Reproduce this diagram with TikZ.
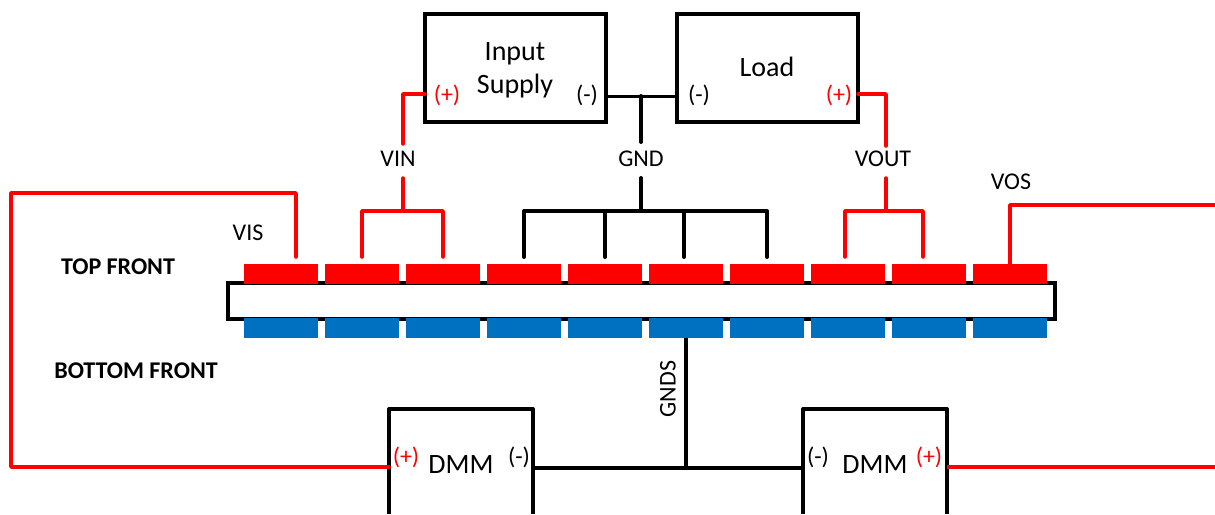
\documentclass[tikz,border=0pt]{standalone}
\usepackage{fontspec}
\setmainfont{Carlito}
\definecolor{padred}{HTML}{FF0000}
\definecolor{padblue}{HTML}{0070C0}
\tikzset{
  boxnode/.style={draw=black,line width=4pt,minimum width=181pt,minimum height=108pt,inner sep=0pt},
  boxtext/.style={inner sep=0pt,align=center,font=\fontsize{28}{33}\selectfont},
  lab/.style={inner sep=0pt,font=\fontsize{24}{28}\selectfont},
  blab/.style={inner sep=0pt,font=\fontsize{24}{28}\selectfont\bfseries},
  big/.style={inner sep=0pt,font=\fontsize{28}{32}\selectfont},
  pol/.style={inner sep=0pt,font=\fontsize{24}{28}\selectfont},
  polr/.style={pol,text=padred},
  toppad/.style={fill=padred,inner sep=0pt,minimum width=74pt,minimum height=20pt},
  botpad/.style={fill=padblue,inner sep=0pt,minimum width=74pt,minimum height=20pt},
  rw/.style={draw=padred,line width=3.5pt,line cap=round,line join=round},
  kw/.style={draw=black,line width=4pt,line cap=round,line join=round},
}
\begin{document}
\begin{tikzpicture}[x=1pt,y=-1pt]
\useasboundingbox (0,0) rectangle (1215,514);
% board
\node[draw=black,line width=4pt,minimum width=827pt,minimum height=36pt,inner sep=0pt] (board) at (641.5,301.25) {};
% pads
\foreach \i/\x in {1/281,2/362,3/443,4/524,5/605,6/686,7/767,8/848,9/929,10/1010}{
  \node[toppad] (t\i) at (\x,274) {};
  \node[botpad] (b\i) at (\x,328) {};
}
% boxes
\node[boxnode] (sup) at (515.5,67.5) {};
\node[boxtext] (suptext) at (515,70) {Input\\Supply};
\node[boxnode] (load) at (767.5,67.5) {};
\node[boxtext] (loadtext) at (767,67) {Load};
% DMM boxes
\coordinate (dl1) at (389,514); \coordinate (dl2) at (389,409); \coordinate (dl3) at (533,409); \coordinate (dl4) at (533,514);
\coordinate (dr1) at (803,514); \coordinate (dr2) at (803,409); \coordinate (dr3) at (947,409); \coordinate (dr4) at (947,514);
\draw[draw=black,line width=4pt,line join=round] (dl1) -- (dl2) -- (dl3) -- (dl4);
\draw[draw=black,line width=4pt,line join=round] (dr1) -- (dr2) -- (dr3) -- (dr4);
\node[big] (dmml) at (461,465) {DMM};
\node[big] (dmmr) at (875,465) {DMM};
% polarity labels
\node[polr] (p1) at (447,95) {(+)};
\node[pol] (m1) at (587,95) {(-)};
\node[pol] (m2) at (699,95) {(-)};
\node[polr] (p2) at (839,95) {(+)};
\node[polr] (p3) at (406,457) {(+)};
\node[pol] (m3) at (519,457) {(-)};
\node[pol] (m4) at (818,457) {(-)};
\node[polr] (p4) at (929,457) {(+)};
% labels
\node[lab] (vin) at (398,159) {VIN};
\node[lab] (gnd) at (641,159) {GND};
\node[lab] (vout) at (883,159) {VOUT};
\node[lab] (vis) at (248,233) {VIS};
\node[lab] (vos) at (1011,182) {VOS};
\node[blab] (topf) at (118,267) {TOP FRONT};
\node[blab] (botf) at (136,371) {BOTTOM FRONT};
\node[lab,rotate=90] (gnds) at (668,389) {GNDS};
% VIS wire
\coordinate (visa) at (296,257); \coordinate (visb) at (296,193); \coordinate (visc) at (11,193); \coordinate (visd) at (11,467); \coordinate (vise) at (389,467);
\draw[rw] (visa) -- (visb) -- (visc) -- (visd) -- (vise);
% VIN
\coordinate (vina) at (425,94); \coordinate (vinb) at (403,94); \coordinate (vinc) at (403,144);
\coordinate (vind) at (403,178); \coordinate (vine) at (403,211);
\coordinate (vinl) at (362,211); \coordinate (vinr) at (443,211); \coordinate (vinld) at (362,257); \coordinate (vinrd) at (443,257);
\draw[rw] (vina) -- (vinb) -- (vinc);
\draw[rw] (vind) -- (vine);
\draw[rw] (vinld) -- (vinl) -- (vinr) -- (vinrd);
% GND
\coordinate (gj) at (641,96); \coordinate (gs) at (641,142); \coordinate (gt) at (641,178); \coordinate (gb) at (641,211);
\coordinate (sr) at (606,96); \coordinate (ll) at (677,96);
\draw[draw=black,line width=3pt] (sr) -- (ll);
\draw[kw] (gj) -- (gs);
\draw[kw] (gt) -- (gb);
\coordinate (g1) at (524,211); \coordinate (g1d) at (524,257); \coordinate (g2) at (605,211); \coordinate (g2d) at (605,257);
\coordinate (g3) at (684,211); \coordinate (g3d) at (684,257); \coordinate (g4) at (767,211); \coordinate (g4d) at (767,257);
\draw[kw] (g1d) -- (g1) -- (g4) -- (g4d);
\draw[kw] (g2) -- (g2d);
\draw[kw] (g3) -- (g3d);
% VOUT
\coordinate (voa) at (858,94); \coordinate (vob) at (886,94); \coordinate (voc) at (886,146);
\coordinate (vod) at (886,178); \coordinate (voe) at (886,211);
\coordinate (vol) at (845,211); \coordinate (vor) at (923,211); \coordinate (vold) at (845,257); \coordinate (vord) at (923,257);
\draw[rw] (voa) -- (vob) -- (voc);
\draw[rw] (vod) -- (voe);
\draw[rw] (vold) -- (vol) -- (vor) -- (vord);
% VOS
\coordinate (vsb) at (1010,205); \coordinate (vsc) at (1215,205);
\draw[rw,line cap=butt] (t10.north) -- (vsb) -- (vsc);
% GNDS
\coordinate (gsj) at (686,467.5);
\coordinate (dlm) at (533,467.5); \coordinate (drm) at (803,467.5);
\draw[draw=black,line width=4pt] (b6.south) -- (gsj);
\draw[draw=black,line width=4pt] (dlm) -- (drm);
% right DMM plus
\coordinate (drp) at (947,467); \coordinate (drq) at (1215,467);
\draw[draw=padred,line width=4pt] (drp) -- (drq);
\end{tikzpicture}
\end{document}
